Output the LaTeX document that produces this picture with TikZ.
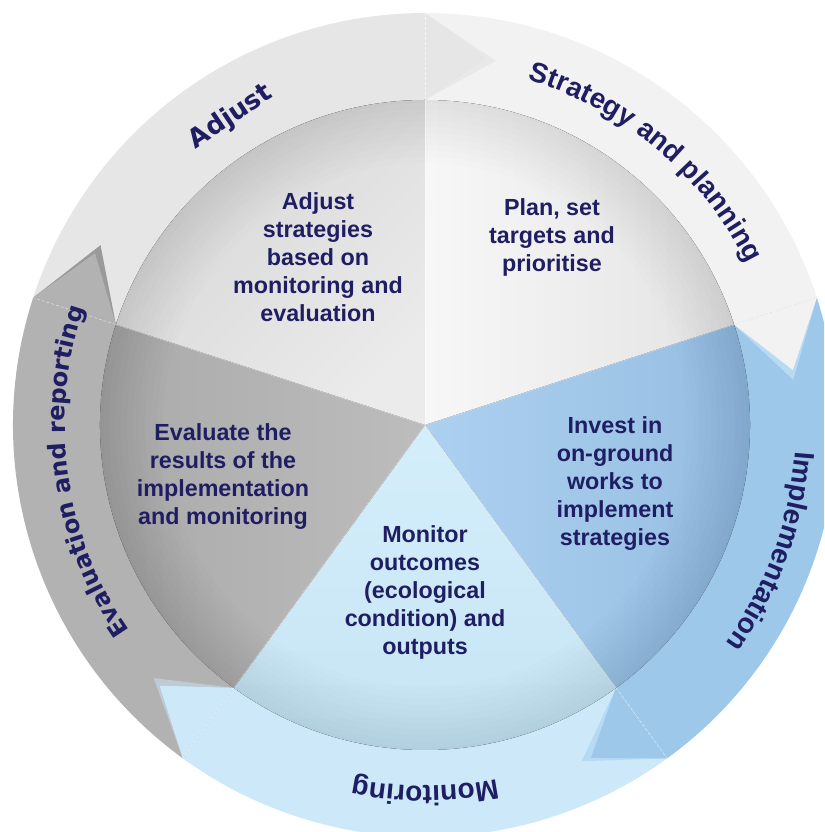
\documentclass[tikz,border=0pt]{standalone}
\usepackage{fontspec}
\setmainfont{Liberation Sans}
\newfontfamily\dejafont{DejaVu Sans}
\usetikzlibrary{decorations.text}
\definecolor{navy}{RGB}{31,30,98}
\definecolor{rAdj}{HTML}{E6E6E6}
\definecolor{rStr}{HTML}{F2F2F2}
\definecolor{rImp}{HTML}{9DC8EA}
\definecolor{rMon}{HTML}{CDE9F9}
\definecolor{rEva}{HTML}{B2B2B2}
\definecolor{hAdj}{HTML}{E9E9E9}
\definecolor{hStr}{HTML}{B8DAF2}
\definecolor{hImp}{HTML}{B6DAF1}
\definecolor{hMon}{HTML}{BCCBD4}
\definecolor{hEva}{HTML}{9A9A9A}
\newcommand{\rbody}[3]{\fill[#3] (#1:325pt) -- (#1:412pt) arc[start angle=#1, end angle=#2, radius=412pt] -- (#2:325pt) arc[start angle=#2, end angle=#1, radius=325pt] -- cycle;}
\newcommand{\rhead}[3]{%
  \fill[#3] (#1:325pt) -- (#1:412pt) -- ({#1-11}:371pt) -- cycle;
  \fill[#2] (#1:325pt) -- (#1:412pt) -- ({#1-9.5}:372pt) -- cycle;
  \draw[white, opacity=.6, densely dashed, line width=.5pt] (#1:325pt) -- (#1:412pt);}
\newcommand{\pslice}[3]{\fill[#3] (0,0) -- (#1:325pt) arc[start angle=#1, end angle=#2, radius=325pt] -- cycle;}
\tikzset{
  inner/.style={align=center, text=navy, font=\bfseries\fontsize{23.3}{28}\selectfont},
}
\begin{document}
\begin{tikzpicture}[x=1pt,y=1pt]
\useasboundingbox (-425,-407) rectangle (399,425);
\clip (-425,-407) rectangle (399,425);
% ring bodies
\rbody{162}{90}{rAdj}
\rbody{90}{18}{rStr}
\rbody{18}{-54}{rImp}
\rbody{-54}{-126}{rMon}
\rbody{234}{162}{rEva}
% ring heads
\rhead{90}{rAdj}{hAdj}
\rhead{18}{rStr}{hStr}
\rhead{-54}{rImp}{hImp}
\rhead{-126}{rMon}{hMon}
\rhead{162}{rEva}{hEva}
% pie slices
\pslice{90}{162}{top color=black!16, bottom color=black!8, shading angle=45}
\pslice{18}{90}{left color=black!3, right color=black!11}
\pslice{-54}{18}{left color={rgb,255:red,172;green,208;blue,240}, right color={rgb,255:red,148;green,188;blue,224}}
\pslice{234}{306}{top color={rgb,255:red,212;green,238;blue,251}, bottom color={rgb,255:red,198;green,228;blue,243}}
\pslice{162}{234}{left color=black!34, right color=black!26}
% rim darkening
\foreach \r in {262,268,...,322}{
  \fill[black, opacity=0.009, even odd rule] (0,0) circle[radius=325pt] (0,0) circle[radius=\r pt];
}
% separators
\foreach \a in {18,90,162,234,306}{
  \draw[white, opacity=.45, line width=.8pt] (0,0) -- (\a:325pt);
}
% inner texts
\node[inner] (tadj) at (-107,167.5) {Adjust\\strategies\\based on\\monitoring and\\evaluation};
\node[inner] (tplan) at (127,188) {Plan, set\\targets and\\prioritise};
\node[inner] (teval) at (-202,-51.5) {Evaluate the\\results of the\\implementation\\and monitoring};
\node[inner] (tinv) at (190,-58.5) {Invest in\\on-ground\\works to\\implement\\strategies};
\node[inner] (tmon) at (0,-167.5) {Monitor\\outcomes\\(ecological\\condition) and\\outputs};
% ring labels
\node[rotate=34, text=navy, font=\dejafont\bfseries\fontsize{26}{28}\selectfont] (ladj) at (-194,308) {Adjust};
\path[decorate, decoration={text along path, text align=center,
  text={|\bfseries\fontsize{28}{30}\selectfont\color{navy}|Strategy and planning}}]
  (90:360pt) arc[start angle=90, end angle=10, radius=360pt];
\path[decorate, decoration={text along path, text align=center,
  text={|\bfseries\fontsize{28}{30}\selectfont\color{navy}|Implementation}}]
  (25:371pt) arc[start angle=25, end angle=-65, radius=371pt];
\path[decorate, decoration={text along path, text align=center,
  text={|\bfseries\fontsize{28}{30}\selectfont\color{navy}|Monitoring}}]
  (-45:361pt) arc[start angle=-45, end angle=-135, radius=361pt];
\path[decorate, decoration={text along path, text align=center,
  text={|\dejafont\bfseries\fontsize{24}{26}\selectfont\color{navy}|Evaluation and reporting}}]
  (233:360pt) arc[start angle=233, end angle=143, radius=360pt];
\end{tikzpicture}
\end{document}
